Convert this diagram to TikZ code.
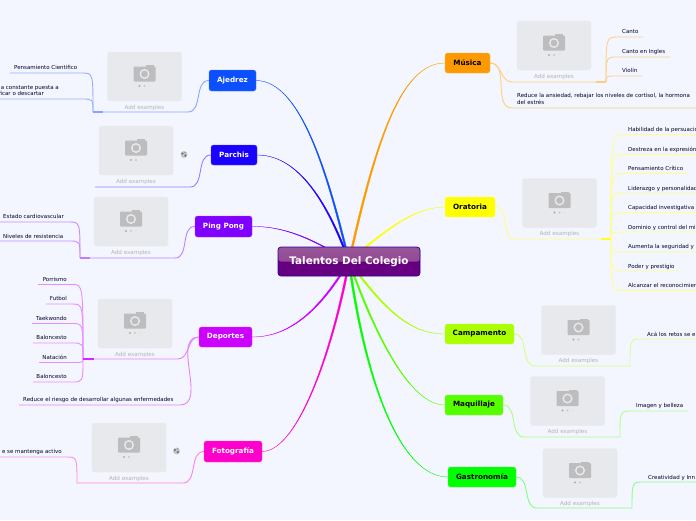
\documentclass[tikz,border=0pt]{standalone}
\usepackage{fontspec}
\setmainfont{DejaVu Sans}
\usetikzlibrary{calc}
\pgfdeclarelayer{back}
\pgfsetlayers{back,main}
\definecolor{bgc}{HTML}{F4F6FF}
\definecolor{phc}{HTML}{E8E9EC}
\definecolor{camc}{HTML}{BDBDBF}
\definecolor{cAj}{HTML}{0B4FFF}
\definecolor{cPa}{HTML}{1A00FF}
\definecolor{cPi}{HTML}{7F00FF}
\definecolor{cDe}{HTML}{CC00FF}
\definecolor{cFo}{HTML}{FF00CC}
\definecolor{cMu}{HTML}{FF9900}
\definecolor{cOr}{HTML}{FFFF00}
\definecolor{cCa}{HTML}{AAFF00}
\definecolor{cMa}{HTML}{55FF00}
\definecolor{cGa}{HTML}{00FF00}
\tikzset{
  x=1pt,y=-1pt,
  branchbox/.style={rounded corners=2.5pt,inner sep=0pt,font=\fontsize{7.2}{8}\selectfont\bfseries},
  leaftext/.style={inner sep=0pt,yshift=-0.8pt,font=\fontsize{5.5}{7}\selectfont,text=black!75!blue!60!black},
  captiontext/.style={inner sep=0pt,yshift=-0.8pt,font=\fontsize{5.6}{7}\selectfont,text=black!30!white},
  photo/.style={draw=black!5!bgc,fill=phc,rounded corners=2.5pt,inner sep=0pt,minimum width=74pt,minimum height=49pt},
  sub/.style={draw=#1!50!white,line width=0.9pt},
  leafline/.style={draw=#1!45!white,line width=0.9pt},
  hub/.style={draw=#1!85!white,line width=1.3pt}
}
\newcommand\Bn[8]{\node[branchbox,fill=#6,draw=#6!75!white,line width=0.4pt,text=#7,minimum width={(#4-#2)*1pt},minimum height={(#5-#3)*1pt}] (#1) at ({(#2+#4)/2},{(#3+#5)/2}) {\raisebox{-1.5pt}{#8}};}
% tapered main connector
\newcommand\Br[6]{\fill[#1,draw=#1,line width=0.3pt] ($(root.center)+(#5,#6)$) .. controls ($#3+(#5,#6)$) and #4 .. (#2) .. controls #4 and ($#3-(#5,#6)$) .. ($(root.center)-(#5,#6)$) -- cycle;}
% placeholder image
\newcommand\Ph[3]{%
  \node[photo] (#1) at ({#2+37},{#3+24.5}) {};
  \node[captiontext] (#1cap) at ({#2+37},{#3+55}) {Add examples};
  \fill[camc,rounded corners=0.8pt] ($(#1.center)+(-11,-10)$) rectangle ($(#1.center)+(11,5)$);
  \fill[camc] ($(#1.center)+(1,-10)$) rectangle ($(#1.center)+(9,-11.5)$);
  \draw[phc,line width=1.4pt] ($(#1.center)+(0,-2.5)$) circle (4.3);
  \fill[black!32] ($(#1.center)+(-5,9.5)$) circle (1.1);
  \fill[black!22] ($(#1.center)+(0,9.5)$) circle (1.1);
  \fill[black!10] ($(#1.center)+(5,9.5)$) circle (1.1);
}
\newcommand\Globe[3]{\node[circle,fill=black!22,inner sep=0pt,minimum size=7pt] (#1) at (#2,#3) {};
  \fill[black!62] ($(#1)+(-1.6,-1)$) circle (1.1);\fill[black!62] ($(#1)+(1.4,1.1)$) circle (1.2);\fill[black!50] ($(#1)+(1,-2)$) circle (0.7);}
% level 1 connector: node anchor -> corner -> free end
\newcommand\Lv[6]{\draw[sub=#1] (#2) to[out=#3,in=#4] (#5) -- (#6);}
% leaf connector: hub -> bend -> line end
\newcommand\Lf[4]{\draw[leafline=#1] (#2) .. controls (#2 |- #3) .. (#3) -- (#4);}
\begin{document}
\begin{tikzpicture}
\useasboundingbox (0,0) rectangle (696,520);
\clip (0,0) rectangle (696,520);
\begin{pgfonlayer}{back}
\fill[bgc] (0,0) rectangle (696,520);
\end{pgfonlayer}

% root and branch nodes
\node[rounded corners=3pt,draw=black!60!cDe!60!blue,line width=0.7pt,fill=black!50!cDe,minimum width=142pt,minimum height=29pt,inner sep=0pt,text=white,font=\fontsize{10.4}{12}\selectfont\bfseries,
  path picture={\fill[top color=violet!60!white!85!black,bottom color=violet!75!white!90!black] (path picture bounding box.north west) rectangle ($(path picture bounding box.east)$);}] (root) at (349,261.5) {Talentos Del Colegio};
\Bn{aj}{209}{70}{256}{91}{cAj}{white}{Ajedrez}
\Bn{pa}{211}{145}{257}{165}{cPa}{white}{Parchis}
\Bn{pi}{195}{216}{252}{237}{cPi}{white}{Ping Pong}
\Bn{de}{199}{327}{252}{347}{cDe}{white}{Deportes}
\Bn{fo}{204}{441}{262}{462}{cFo}{white}{Fotografía}
\Bn{mu}{445}{53}{490}{73}{cMu}{black}{Música}
\Bn{or}{445}{197}{495}{217}{cOr}{black}{Oratoria}
\Bn{ca}{445}{324}{514}{344}{cCa}{black}{Campamento}
\Bn{ma}{445}{395}{503}{415}{cMa}{black}{Maquillaje}
\Bn{ga}{448}{467}{516}{487}{cGa}{black}{Gastronomía}

% placeholders
\Ph{phAj}{107.5}{52}
\Ph{phPa}{99}{126}
\Ph{phPi}{94}{197}
\Ph{phDe}{98}{299}
\Ph{phFo}{92}{423}
\Ph{phMu}{517}{21}
\Ph{phOr}{522.5}{178.5}
\Ph{phCa}{541.5}{305.5}
\Ph{phMa}{530.5}{376.5}
\Ph{phGa}{543}{448.5}
\Globe{glPa}{184}{154.5}
\Globe{glFo}{176.5}{451}

% leaf texts
\node[leaftext,anchor=west] (t1) at (14,67) {Pensamiento Cientifico};
\node[leaftext,anchor=east] (t2) at (59,87) {a constante puesta a};
\node[leaftext,anchor=east] (t3) at (44,93) {ficar o descartar};
\node[leaftext,anchor=west] (t4) at (3,216) {Estado cardiovascular};
\node[leaftext,anchor=west] (t5) at (3,236) {Niveles de resistencia};
\node[leaftext,anchor=east] (t6) at (67,279) {Porrismo};
\node[leaftext,anchor=east] (t7) at (67,298) {Futbol};
\node[leaftext,anchor=east] (t8) at (67,318) {Taekwondo};
\node[leaftext,anchor=east] (t9) at (67,337) {Baloncesto};
\node[leaftext,anchor=east] (t10) at (67,357) {Natación};
\node[leaftext,anchor=east] (t11) at (67,376) {Baloncesto};
\node[leaftext,anchor=west] (t12) at (23,399) {Reduce el riesgo de desarrollar algunas enfermedades};
\node[leaftext,anchor=east] (t13) at (62,451) {e se mantenga activo};
\node[leaftext,anchor=west] (t14) at (622,31) {Canto};
\node[leaftext,anchor=west] (t15) at (622,51) {Canto en Ingles};
\node[leaftext,anchor=west] (t16) at (622,70) {Violín};
\node[leaftext,anchor=west] (t17) at (517,95) {Reduce la ansiedad, rebajar los niveles de cortisol, la hormona};
\node[leaftext,anchor=west] (t18) at (517,102) {del estrés};
\node[leaftext,anchor=west] (t19) at (628,129) {Habilidad de la persuació};
\node[leaftext,anchor=west] (t20) at (628,149) {Destreza en la expresión};
\node[leaftext,anchor=west] (t21) at (628,168) {Pensamiento Crítico};
\node[leaftext,anchor=west] (t22) at (628,188) {Liderazgo y personalidad};
\node[leaftext,anchor=west] (t23) at (628,207) {Capacidad investigativa};
\node[leaftext,anchor=west] (t24) at (628,227) {Dominio y control del mi};
\node[leaftext,anchor=west] (t25) at (628,246) {Aumenta la seguridad y};
\node[leaftext,anchor=west] (t26) at (628,266) {Poder y prestigio};
\node[leaftext,anchor=west] (t27) at (628,285) {Alcanzar el reconocimien};
\node[leaftext,anchor=west] (t28) at (647,334) {Acá los retos se e};
\node[leaftext,anchor=west] (t29) at (636,405) {Imagen y belleza};
\node[leaftext,anchor=west] (t30) at (648,477) {Creatividad y Inn};

% free coordinates
\coordinate (jAj) at (93,112);   \coordinate (cAj1) at (188,112);
\coordinate (jPi) at (80,258);   \coordinate (cPi1) at (175,258);
\coordinate (jDe) at (83,359);   \coordinate (cDe1) at (178,359);
\coordinate (jFo) at (77,483);   \coordinate (cFo1) at (183,483);
\coordinate (jMu) at (606,82);   \coordinate (cMu1) at (512,82);
\coordinate (jOr) at (611,239);  \coordinate (cOr1) at (515,239);
\coordinate (jCa) at (630,366);  \coordinate (cCa1) at (535,366);
\coordinate (jMa) at (620,437);  \coordinate (cMa1) at (524,437);
\coordinate (jGa) at (632,508);  \coordinate (cGa1) at (537,508);

\begin{pgfonlayer}{back}
% main connectors
\Br{cAj}{aj.east}{(327,170)}{(300,81)}{0.9}{0}
\Br{cPa}{pa.east}{(325,195)}{(295,155)}{0.9}{0}
\Br{cPi}{pi.east}{(315,240)}{(285,226)}{0.3}{0.7}
\Br{cDe}{de.east}{(320,310)}{(290,337)}{0.6}{0.6}
\Br{cFo}{fo.east}{(335,340)}{(300,451)}{1}{0}
\Br{cMu}{mu.west}{(375,145)}{(400,63)}{1}{0}
\Br{cOr}{or.west}{(385,230)}{(415,207)}{0.6}{0.6}
\Br{cCa}{ca.west}{(385,310)}{(410,334)}{0.6}{-0.6}
\Br{cMa}{ma.west}{(375,335)}{(410,405)}{0.8}{-0.3}
\Br{cGa}{ga.west}{(365,380)}{(400,477)}{1}{0}

% Ajedrez
\coordinate (e1) at (10,73); \coordinate (b1) at (82,73);
\coordinate (e2) at (0,99);  \coordinate (b2) at (82,99);
\Lv{cAj}{aj.west}{180}{0}{cAj1}{jAj}
\draw[hub=cAj!60!white] (jAj) -- +(10,0);
\Lf{cAj}{jAj}{b1}{e1}
\Lf{cAj}{jAj}{b2}{e2}
% Parchis
\coordinate (ePa) at (95,187); \coordinate (cPa1) at (190,187);
\Lv{cPa}{pa.west}{180}{0}{cPa1}{ePa}
% Ping Pong
\coordinate (b3) at (69,222); \coordinate (e3) at (0,222);
\coordinate (b4) at (69,241); \coordinate (e4) at (0,241);
\Lv{cPi}{pi.west}{180}{0}{cPi1}{jPi}
\draw[hub=cPi!60!white] (jPi) -- +(10,0);
\Lf{cPi}{jPi}{b3}{e3}
\Lf{cPi}{jPi}{b4}{e4}
% Deportes
\coordinate (b5) at (72,284.5); \coordinate (e5) at (38,284.5);
\coordinate (b6) at (72,304);   \coordinate (e6) at (46,304);
\coordinate (b7) at (72,323.5); \coordinate (e7) at (32,323.5);
\coordinate (b8) at (72,343);   \coordinate (e8) at (33,343);
\coordinate (b9) at (72,362.5); \coordinate (e9) at (39,362.5);
\coordinate (b10) at (72,382);  \coordinate (e10) at (33,382);
\coordinate (cDe2) at (180,405); \coordinate (eDe2) at (19,405);
\Lv{cDe}{de.west}{180}{0}{cDe1}{jDe}
\Lv{cDe}{de.west}{180}{0}{cDe2}{eDe2}
\foreach \i in {5,...,10} {\Lf{cDe}{jDe}{b\i}{e\i}}
\draw[hub=cDe] (jDe) -- +(11,0);
% Fotografia
\coordinate (b11) at (66,457); \coordinate (e11) at (0,457);
\Lv{cFo}{fo.west}{180}{0}{cFo1}{jFo}
\Lf{cFo}{jFo}{b11}{e11}
% Musica
\coordinate (b12) at (618,37); \coordinate (e12) at (643,37);
\coordinate (b13) at (618,57); \coordinate (e13) at (670,57);
\coordinate (b14) at (618,76); \coordinate (e14) at (642,76);
\coordinate (cMu2) at (512,108); \coordinate (eMu2) at (696,108);
\Lv{cMu}{mu.east}{0}{180}{cMu1}{jMu}
\Lv{cMu}{mu.east}{0}{180}{cMu2}{eMu2}
\draw[hub=cMu!60!white] (jMu) -- +(-10,0);
\foreach \i in {12,13,14} {\Lf{cMu}{jMu}{b\i}{e\i}}
% Oratoria
\foreach \i/\y in {15/134.5,16/154.5,17/173.5,18/193,19/212.5,20/232,21/252,22/271,23/290.5} {
  \coordinate (b\i) at (624,\y); \coordinate (e\i) at (696,\y);}
\coordinate (e17) at (687,173.5); \coordinate (e22) at (679,271);
\Lv{cOr}{or.east}{0}{180}{cOr1}{jOr}
\draw[hub=cOr] (jOr) -- +(-10,0);
\foreach \i in {15,...,23} {\Lf{cOr}{jOr}{b\i}{e\i}}
% Campamento
\coordinate (b24) at (642,339); \coordinate (e24) at (696,339);
\Lv{cCa}{ca.east}{0}{180}{cCa1}{jCa}
\Lf{cCa}{jCa}{b24}{e24}
% Maquillaje
\coordinate (b25) at (632,411); \coordinate (e25) at (688,411);
\Lv{cMa}{ma.east}{0}{180}{cMa1}{jMa}
\Lf{cMa}{jMa}{b25}{e25}
% Gastronomia
\coordinate (b26) at (644,482); \coordinate (e26) at (696,482);
\Lv{cGa}{ga.east}{0}{180}{cGa1}{jGa}
\Lf{cGa}{jGa}{b26}{e26}
\end{pgfonlayer}
\end{tikzpicture}
\end{document}
